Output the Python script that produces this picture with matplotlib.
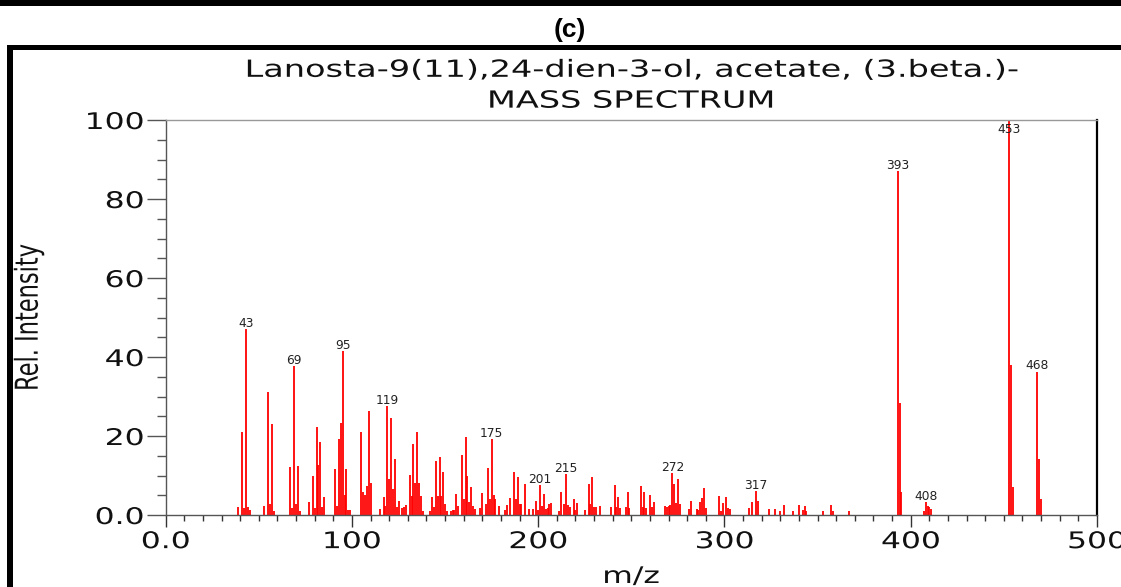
import matplotlib
matplotlib.use("Agg")
import matplotlib.pyplot as plt
from matplotlib import patheffects
from matplotlib.transforms import Affine2D
from matplotlib.patches import Rectangle
from matplotlib.ticker import MultipleLocator, FuncFormatter

# ---- spectrum data (m/z, relative intensity in %) ----
mz = [39, 41, 42, 43, 44, 45, 53, 55, 56, 57, 58, 67, 68, 69, 70, 71, 72,
      77, 79, 80, 81, 82, 83, 84, 85, 91, 92, 93, 94, 95, 96, 97, 98, 99,
      105, 106, 107, 108, 109, 110, 115, 117, 118, 119, 120, 121, 122, 123,
      124, 125, 127, 128, 129, 131, 132, 133, 134, 135, 136, 137, 138,
      142, 143, 144, 145, 146, 147, 148, 149, 150, 151, 153, 154, 155, 156,
      157, 159, 160, 161, 162, 163, 164, 165, 166, 169, 170, 172, 173, 174,
      175, 176, 177, 179, 182, 183, 185, 187, 188, 189, 190, 191, 193, 195,
      197, 199, 200, 201, 202, 203, 204, 205, 206, 207, 211, 212, 214, 215,
      216, 217, 219, 220, 221, 225, 227, 228, 229, 230, 231, 233, 239, 241,
      242, 243, 244, 247, 248, 249, 255, 256, 257, 258, 260, 261, 262,
      268, 269, 270, 271, 272, 273, 274, 275, 276, 281, 282, 285, 286, 287,
      288, 289, 290, 297, 298, 299, 301, 302, 303, 313, 315, 317, 318, 324,
      327, 330, 332, 337, 340, 342, 343, 344, 353, 357, 358, 367,
      393, 394, 395, 407, 408, 409, 410, 411, 453, 454, 455, 468, 469, 470]
intensity = [2.1, 21.0, 1.7, 47.1, 1.9, 1.3, 2.3, 31.1, 2.8, 23.0, 1.1, 12.2,
             1.7, 37.6, 2.8, 12.4, 1.1,
             3.3, 9.9, 1.8, 22.4, 12.7, 18.5, 2.0, 4.5, 11.6, 2.3, 19.2, 23.4,
             41.4, 5.1, 11.6, 1.2, 1.2,
             21.1, 5.7, 5.1, 7.4, 26.3, 8.0, 1.4, 4.5, 2.3, 27.6, 9.0, 24.5,
             6.7, 14.3, 1.9, 3.5, 1.7, 1.9, 2.5, 10.1, 4.8, 18.0, 8.0, 20.9,
             8.2, 4.8, 1.1,
             1.0, 4.6, 2.1, 13.7, 4.8, 14.8, 4.8, 11.0, 2.7, 1.1, 1.1, 1.3,
             1.3, 5.2, 2.4, 15.1, 4.0, 19.7, 9.9, 3.3, 7.0, 2.3, 1.5, 1.7,
             5.5, 2.7, 11.9, 4.1, 19.2, 5.1, 4.0, 2.3, 1.3, 2.5, 4.3, 11.0,
             4.1, 9.7, 2.9, 2.8, 7.8, 1.4, 1.4, 3.6, 1.3, 7.5, 2.3, 5.3, 1.4,
             1.7, 2.8, 3.1, 1.1, 5.7, 2.7, 10.3, 2.5, 2.1, 4.0, 1.3, 3.0,
             1.3, 7.8, 2.7, 9.5, 1.9, 1.9, 2.3, 1.9, 7.5, 1.9, 4.6, 1.7,
             1.9, 5.8, 1.7, 7.3, 1.9, 5.7, 1.7, 5.1, 1.9, 3.4,
             2.3, 2.1, 2.3, 2.5, 10.7, 7.8, 3.0, 9.2, 2.8, 1.5, 3.5, 1.5,
             1.3, 3.3, 4.2, 6.8, 1.7, 4.8, 1.0, 3.1, 4.5, 1.7, 1.5, 1.7, 3.3,
             6.1, 3.5, 1.4, 1.4, 1.1, 2.5, 1.1, 2.5, 1.3, 2.3, 1.1, 1.1, 2.5,
             1.1, 1.1,
             87.1, 28.3, 5.7, 1.1, 3.2, 2.3, 1.9, 1.4, 100.0, 38.1, 7.2,
             36.3, 14.1, 4.1]
labeled_mz = [43, 69, 95, 119, 175, 201, 215, 272, 317, 393, 408, 453, 468]

compound = "Lanosta-9(11),24-dien-3-ol, acetate, (3.beta.)-"
subtitle = "MASS SPECTRUM"
panel = "(c)"
x_label = "m/z"
y_label = "Rel. Intensity"
x_range = (0, 500)
y_range = (0, 100)


class WideText(patheffects.AbstractPathEffect):
    """Render glyph outlines widened along the display x direction."""

    def __init__(self, factor, anchor="center"):
        super().__init__()
        self.factor = factor
        self.anchor = anchor

    def draw_path(self, renderer, gc, tpath, affine, rgbFace=None):
        ext = tpath.get_extents(affine)
        if self.anchor == "right":
            px = ext.x1
        elif self.anchor == "left":
            px = ext.x0
        else:
            px = 0.5 * (ext.x0 + ext.x1)
        widen = Affine2D().translate(-px, 0).scale(self.factor, 1).translate(px, 0)
        renderer.draw_path(gc, tpath, affine + widen, rgbFace)


W, H = 1121, 587
fig = plt.figure(figsize=(W / 100, H / 100), dpi=100)
fig.patch.set_facecolor("white")

# surrounding panel frame
fig.add_artist(Rectangle((0, 1 - 6 / H), 1, 6 / H, transform=fig.transFigure,
                         facecolor="black", edgecolor="none"))
fig.add_artist(Rectangle((7 / W, 1 - 50 / H), 1, 5 / H, transform=fig.transFigure,
                         facecolor="black", edgecolor="none"))
fig.add_artist(Rectangle((7 / W, 0), 5.5 / W, 1 - 45 / H, transform=fig.transFigure,
                         facecolor="black", edgecolor="none"))
fig.text(570 / W, 1 - 30 / H, panel, ha="center", va="center", fontsize=19,
         fontweight="bold", family="Liberation Sans", color="black")

left, right, top, bottom = 165.7, 1097, 120, 515
ax = fig.add_axes([left / W, 1 - bottom / H, (right - left) / W, (bottom - top) / H])

ax.vlines(mz, 0, intensity, colors="#ff0000", linewidth=1.3)

peak = dict(zip(mz, intensity))
for m in labeled_mz:
    v = peak[m]
    if v >= 97:
        ax.annotate(str(m), xy=(m, y_range[1]), xytext=(0, -2.4),
                    textcoords="offset points", ha="center", va="top",
                    fontsize=8.8, color="#222222")
    else:
        ax.annotate(str(m), xy=(m, v), xytext=(0, 1.6),
                    textcoords="offset points", ha="center", va="baseline",
                    fontsize=8.8, color="#222222")

ax.set_xlim(*x_range)
ax.set_ylim(*y_range)

ax.xaxis.set_major_locator(MultipleLocator(100))
ax.xaxis.set_minor_locator(MultipleLocator(10))
ax.yaxis.set_major_locator(MultipleLocator(20))
ax.yaxis.set_minor_locator(MultipleLocator(5))
fmt = FuncFormatter(lambda v, p: "0.0" if v == 0 else f"{v:.0f}")
ax.xaxis.set_major_formatter(fmt)
ax.yaxis.set_major_formatter(fmt)

ax.tick_params(axis="y", which="major", direction="out", length=13.7, width=1,
               color="#555555", pad=2, labelsize=16.5, labelcolor="#111111")
ax.tick_params(axis="y", which="minor", direction="out", length=6.5, width=1,
               color="#555555")
ax.tick_params(axis="x", which="major", direction="out", length=8.6, width=1,
               color="#333333", pad=2.3, labelsize=16.5, labelcolor="#111111")
ax.tick_params(axis="x", which="minor", direction="out", length=4.1, width=1,
               color="#333333")

for side in ("left", "bottom"):
    ax.spines[side].set_color("#555555")
    ax.spines[side].set_linewidth(1.0)
ax.spines["top"].set_color("#999999")
ax.spines["top"].set_linewidth(1.0)
ax.spines["right"].set_color("black")
ax.spines["right"].set_linewidth(1.6)

for t in ax.get_xticklabels():
    t.set_path_effects([WideText(1.37, "center")])
for t in ax.get_yticklabels():
    t.set_path_effects([WideText(1.37, "right")])

ax.set_xlabel(x_label, fontsize=16.5, color="#111111", va="top",
              path_effects=[WideText(1.37, "center")])
ax.xaxis.set_label_coords(0.5, (bottom - 565) / (bottom - top))
ax.set_ylabel(y_label, fontsize=16.2, color="#111111",
              path_effects=[WideText(1.4, "center")])
ax.yaxis.set_label_coords((39.2 - left) / (right - left), 0.5)

ax.set_title(compound + "\n" + subtitle, fontsize=17, color="#111111",
             linespacing=1.36, va="bottom", pad=5.3,
             path_effects=[WideText(1.42, "center")])

fig.savefig("out.png", dpi=100)
